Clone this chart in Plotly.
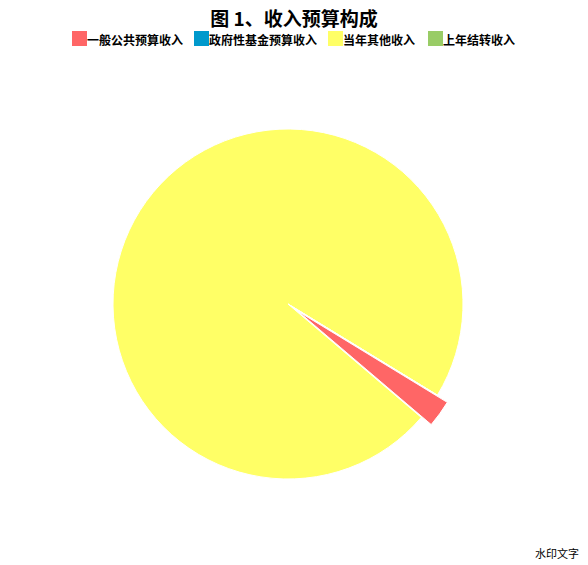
import plotly.graph_objects as go

# dados do grafico
labels = ['一般公共预算收入', '政府性基金预算收入', '当年其他收入', '上年结转收入']
values = [2.5, 0, 97.5, 0]
colors = ['#FF6666', '#0099CC', '#FFFF66', '#99CC66']
pulls = [0.07, 0, 0, 0]

# a pagina tem 8px de margem, entao a figura fica um pouco menor que a janela
W, H = 580, 557
OFF = 8

fig = go.Figure(go.Pie(
    labels=labels,
    values=values,
    marker=dict(colors=colors, line=dict(color='white', width=1)),
    pull=pulls,
    sort=False,
    direction='clockwise',
    rotation=121.4,
    textinfo='none',
    hoverinfo='label+percent',
    domain=dict(x=[0.1599, 0.8056], y=[0.1324, 0.8048]),
    showlegend=False,
))

fig.update_layout(
    width=W,
    height=H,
    margin=dict(l=0, r=0, t=0, b=0),
    paper_bgcolor='white',
    font=dict(family='Noto Sans CJK SC', color='#000000'),
    title=dict(
        text='<b>图 1、收入预算构成</b>',
        x=(294 - OFF) / W, xanchor='center',
        y=1 - (19 - OFF) / H, yanchor='middle',
        font=dict(size=19, color='#000000'),
    ),
)

# legenda feita a mao (quadrado colado no texto, como no original)
leg_x = [72, 194, 328, 428]
for lx, lab, cor in zip(leg_x, labels, colors):
    x = lx - OFF
    fig.add_shape(
        type='rect', xref='paper', yref='paper',
        x0=x / W, x1=(x + 15) / W,
        y0=1 - (46 - OFF) / H, y1=1 - (31 - OFF) / H,
        fillcolor=cor, line=dict(width=0),
    )
    fig.add_annotation(
        text='<b>' + lab + '</b>',
        xref='paper', yref='paper',
        x=(x + 15) / W, xanchor='left',
        y=1 - (40 - OFF) / H, yanchor='middle',
        showarrow=False,
        font=dict(size=12, color='#000000'),
        xshift=-2,
    )

# marca d'agua
fig.add_annotation(
    text='水印文字',
    xref='paper', yref='paper',
    x=(581 - OFF) / W, xanchor='right',
    y=1 - (553 - OFF) / H, yanchor='middle',
    showarrow=False,
    font=dict(size=11, family='Noto Sans CJK SC', color='#000000'),
)

fig.write_html('out.html')
